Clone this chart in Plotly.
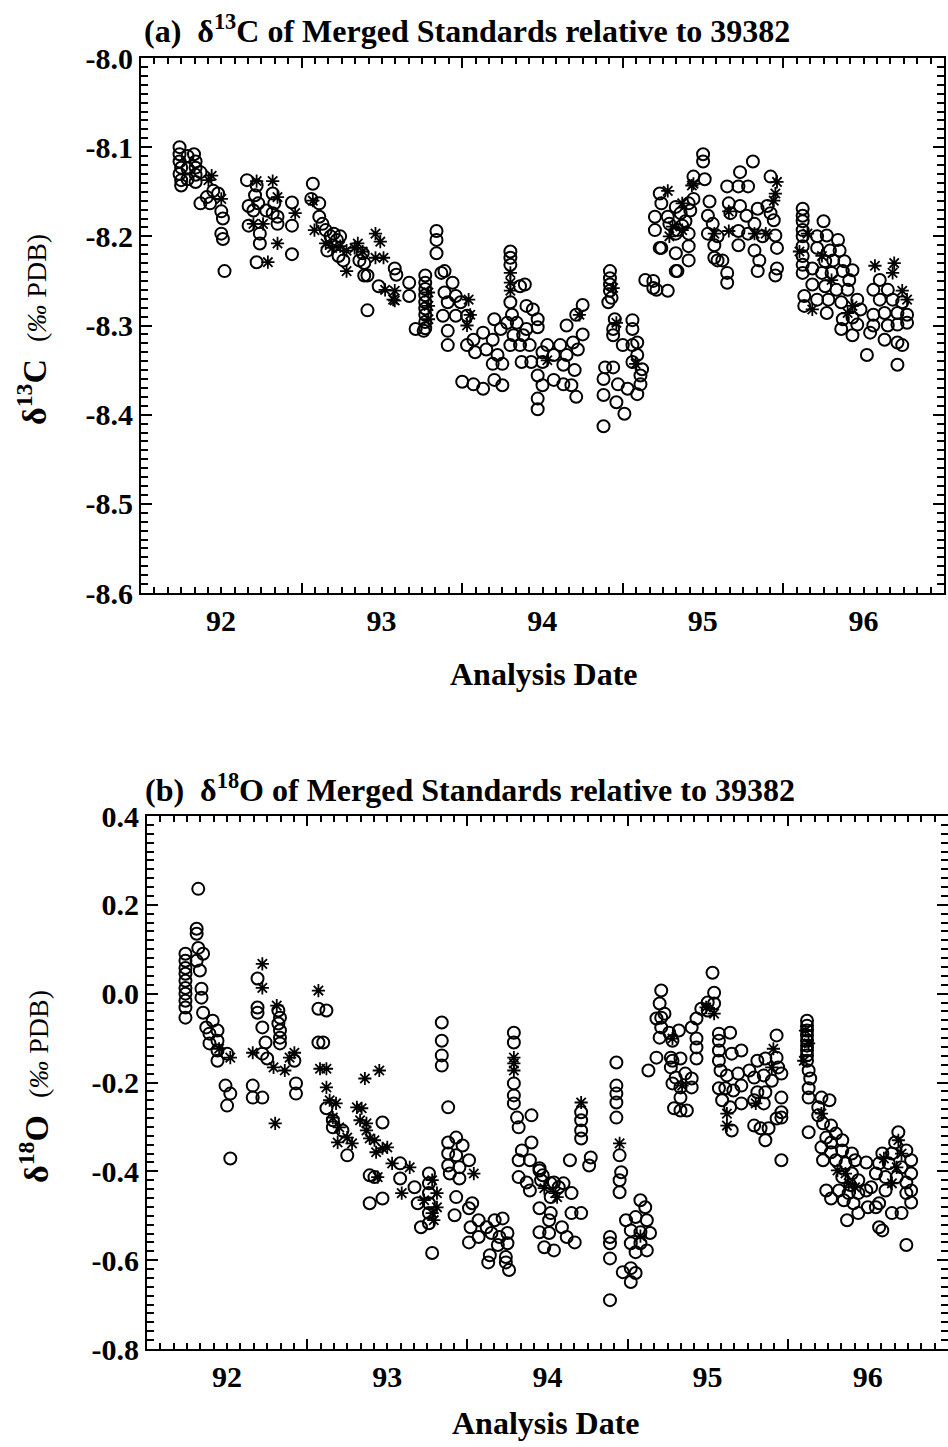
import plotly.graph_objects as go

# ---------------------------------------------------------------------------
# Data: analysis date (decimal year, 92 = 1992) and isotope value (permil PDB)
# ---------------------------------------------------------------------------

# (a) delta13C, open circles
c13_open = [
    (92.24, -8.100), (92.24, -8.108), (92.24, -8.116), (92.25, -8.123), (92.24, -8.130),
    (92.25, -8.137), (92.25, -8.143), (92.29, -8.110), (92.29, -8.124), (92.29, -8.136),
    (92.33, -8.108), (92.34, -8.116), (92.34, -8.123), (92.34, -8.131), (92.34, -8.139),
    (92.37, -8.128), (92.37, -8.163), (92.41, -8.156), (92.45, -8.149), (92.43, -8.163),
    (92.48, -8.152), (92.50, -8.172), (92.51, -8.180), (92.50, -8.197), (92.51, -8.203),
    (92.52, -8.239),
    (92.66, -8.137), (92.72, -8.143), (92.71, -8.154), (92.67, -8.166), (92.73, -8.163),
    (92.70, -8.171), (92.78, -8.171), (92.67, -8.188), (92.74, -8.197), (92.74, -8.208),
    (92.72, -8.229), (92.82, -8.152), (92.83, -8.163), (92.82, -8.174), (92.85, -8.178),
    (92.85, -8.186), (92.94, -8.162), (92.94, -8.188), (92.94, -8.220),
    (93.07, -8.141), (93.06, -8.158), (93.11, -8.163), (93.11, -8.178), (93.13, -8.186),
    (93.15, -8.193), (93.18, -8.200), (93.20, -8.197), (93.22, -8.204), (93.24, -8.200),
    (93.16, -8.216), (93.23, -8.222), (93.26, -8.227), (93.36, -8.227), (93.38, -8.219),
    (93.39, -8.230), (93.39, -8.244), (93.41, -8.244), (93.48, -8.256), (93.41, -8.283),
    (93.58, -8.236), (93.59, -8.243), (93.67, -8.252), (93.67, -8.267),
    (93.77, -8.244), (93.77, -8.252), (93.77, -8.259), (93.77, -8.266), (93.77, -8.274),
    (93.77, -8.281), (93.77, -8.288), (93.77, -8.296), (93.77, -8.303), (93.71, -8.304),
    (93.76, -8.306), (93.84, -8.194), (93.84, -8.204), (93.84, -8.219), (93.87, -8.241),
    (93.89, -8.239), (93.94, -8.252), (93.89, -8.263), (93.96, -8.267), (93.91, -8.274),
    (93.99, -8.274), (93.88, -8.289), (93.96, -8.289), (94.03, -8.289), (93.91, -8.306),
    (93.91, -8.322), (94.03, -8.322), (94.07, -8.316), (94.08, -8.330), (94.13, -8.308),
    (94.19, -8.316), (94.15, -8.327), (94.22, -8.333), (94.19, -8.343), (94.25, -8.343),
    (94.00, -8.363), (94.07, -8.366), (94.13, -8.371), (94.20, -8.361), (94.25, -8.367),
    (94.20, -8.293), (94.24, -8.304),
    (94.30, -8.217), (94.30, -8.224), (94.30, -8.232), (94.39, -8.254), (94.36, -8.256),
    (94.30, -8.274), (94.31, -8.288), (94.28, -8.297), (94.34, -8.297), (94.40, -8.278),
    (94.44, -8.282), (94.47, -8.293), (94.47, -8.302), (94.40, -8.304), (94.32, -8.311),
    (94.38, -8.311), (94.30, -8.322), (94.36, -8.322), (94.42, -8.322), (94.37, -8.341),
    (94.43, -8.341),
    (94.75, -8.277), (94.71, -8.288), (94.65, -8.300), (94.75, -8.310), (94.69, -8.319),
    (94.61, -8.322), (94.72, -8.327), (94.53, -8.322), (94.50, -8.330), (94.50, -8.341),
    (94.57, -8.333), (94.65, -8.333), (94.63, -8.344), (94.70, -8.350), (94.47, -8.356),
    (94.50, -8.367), (94.47, -8.382), (94.47, -8.394), (94.57, -8.361), (94.63, -8.366),
    (94.68, -8.367), (94.71, -8.380),
    (94.92, -8.239), (94.92, -8.247), (94.92, -8.254), (94.92, -8.261), (94.93, -8.269),
    (94.91, -8.274), (94.95, -8.293), (94.94, -8.304), (94.94, -8.311), (95.06, -8.294),
    (95.06, -8.304), (95.00, -8.322), (95.06, -8.322), (95.09, -8.319), (95.09, -8.333),
    (95.12, -8.349), (95.11, -8.356), (95.11, -8.366), (95.09, -8.377), (95.06, -8.341),
    (94.89, -8.347), (94.94, -8.347), (94.88, -8.360), (94.97, -8.366), (95.03, -8.371),
    (94.88, -8.378), (94.96, -8.386), (95.01, -8.399), (94.88, -8.413),
    (95.14, -8.249), (95.19, -8.250), (95.21, -8.260), (95.28, -8.261), (95.33, -8.239),
    (95.19, -8.258),
    (95.23, -8.152), (95.24, -8.163), (95.20, -8.178), (95.20, -8.193), (95.24, -8.213),
    (95.33, -8.219), (95.41, -8.227), (95.33, -8.167), (95.41, -8.163), (95.44, -8.158),
    (95.29, -8.186), (95.34, -8.193), (95.39, -8.183), (95.41, -8.211), (95.34, -8.239),
    (95.28, -8.178), (95.36, -8.174), (95.37, -8.188), (95.33, -8.197), (95.41, -8.197),
    (95.23, -8.213), (95.42, -8.171),
    (95.50, -8.108), (95.50, -8.116), (95.44, -8.133), (95.51, -8.136),
    (95.54, -8.161), (95.53, -8.177), (95.56, -8.186), (95.53, -8.197), (95.59, -8.200),
    (95.57, -8.210), (95.57, -8.224), (95.62, -8.227), (95.65, -8.241), (95.65, -8.252),
    (95.59, -8.227), (95.65, -8.144), (95.66, -8.163), (95.67, -8.174), (95.73, -8.128),
    (95.72, -8.144), (95.78, -8.144), (95.73, -8.166), (95.77, -8.177), (95.72, -8.194),
    (95.78, -8.197), (95.72, -8.210), (95.81, -8.116), (95.84, -8.169), (95.82, -8.186),
    (95.82, -8.216), (95.87, -8.200), (95.85, -8.227), (95.84, -8.239), (95.92, -8.133),
    (95.90, -8.166), (95.94, -8.182), (95.95, -8.199), (95.96, -8.213), (95.96, -8.236),
    (95.95, -8.244), (95.92, -8.174),
    (96.12, -8.169), (96.12, -8.177), (96.12, -8.183), (96.12, -8.193), (96.12, -8.200),
    (96.12, -8.211), (96.12, -8.222), (96.12, -8.232), (96.12, -8.241),
    (96.25, -8.183), (96.21, -8.200), (96.27, -8.199), (96.34, -8.204), (96.21, -8.213),
    (96.29, -8.216), (96.35, -8.216), (96.26, -8.228), (96.31, -8.227), (96.38, -8.228),
    (96.18, -8.236), (96.24, -8.241), (96.30, -8.241), (96.37, -8.239), (96.43, -8.238),
    (96.41, -8.249), (96.18, -8.254), (96.26, -8.256), (96.33, -8.260), (96.40, -8.260),
    (96.13, -8.267), (96.13, -8.278), (96.21, -8.271), (96.28, -8.271), (96.36, -8.274),
    (96.27, -8.286), (96.37, -8.293), (96.46, -8.271), (96.48, -8.282), (96.43, -8.291),
    (96.36, -8.304), (96.43, -8.311), (96.52, -8.333), (96.46, -8.299),
    (96.60, -8.249), (96.56, -8.260), (96.65, -8.260), (96.60, -8.271), (96.68, -8.271),
    (96.74, -8.274), (96.56, -8.288), (96.63, -8.286), (96.71, -8.286), (96.77, -8.288),
    (96.56, -8.300), (96.65, -8.300), (96.71, -8.299), (96.77, -8.297), (96.54, -8.308),
    (96.63, -8.316), (96.71, -8.319), (96.74, -8.322), (96.71, -8.344),
]

# (a) delta13C, asterisks
c13_star = [
    (92.44, -8.132), (92.42, -8.137), (92.50, -8.158),
    (92.72, -8.138), (92.82, -8.138), (92.85, -8.156), (92.96, -8.174), (92.85, -8.208),
    (92.79, -8.229), (92.76, -8.186), (92.70, -8.186),
    (93.07, -8.160), (93.08, -8.193), (93.15, -8.208), (93.19, -8.213), (93.24, -8.211),
    (93.28, -8.216), (93.28, -8.239), (93.33, -8.213), (93.35, -8.208), (93.38, -8.217),
    (93.46, -8.197), (93.49, -8.206), (93.46, -8.224), (93.51, -8.224), (93.58, -8.261),
    (93.57, -8.271), (93.52, -8.260), (93.58, -8.272),
    (93.79, -8.263), (93.79, -8.278), (93.79, -8.293),
    (94.04, -8.271), (94.05, -8.288), (94.03, -8.300),
    (94.30, -8.241), (94.30, -8.252), (94.30, -8.261),
    (94.73, -8.288), (94.53, -8.339),
    (94.94, -8.258), (94.96, -8.297), (95.08, -8.343),
    (95.28, -8.149), (95.44, -8.141), (95.37, -8.163), (95.31, -8.189), (95.37, -8.193),
    (95.29, -8.200), (95.43, -8.143),
    (95.66, -8.172), (95.66, -8.194), (95.94, -8.160), (95.95, -8.152), (95.96, -8.139),
    (95.89, -8.197), (95.57, -8.197), (95.82, -8.197),
    (96.10, -8.217), (96.15, -8.197), (96.18, -8.282), (96.24, -8.222), (96.30, -8.249),
    (96.40, -8.286), (96.43, -8.278),
    (96.57, -8.233), (96.69, -8.230), (96.68, -8.241), (96.74, -8.261), (96.77, -8.271),
]

# (b) delta18O, open circles
o18_open = [
    (92.24, 0.090), (92.24, 0.074), (92.24, 0.058), (92.24, 0.045), (92.24, 0.029),
    (92.24, 0.013), (92.24, 0.000), (92.24, -0.016), (92.24, -0.031), (92.24, -0.054),
    (92.32, 0.236), (92.31, 0.146), (92.31, 0.135), (92.32, 0.103), (92.35, 0.090),
    (92.31, 0.074), (92.33, 0.052), (92.34, 0.011), (92.34, -0.009), (92.35, -0.043),
    (92.37, -0.076), (92.41, -0.061), (92.44, -0.083), (92.39, -0.090), (92.44, -0.106),
    (92.39, -0.112), (92.44, -0.128), (92.50, -0.135), (92.44, -0.151), (92.49, -0.207),
    (92.52, -0.225), (92.50, -0.252), (92.52, -0.371),
    (92.69, 0.034), (92.69, -0.031), (92.69, -0.043), (92.72, -0.076), (92.74, -0.110),
    (92.72, -0.135), (92.75, -0.146), (92.66, -0.207), (92.66, -0.234), (92.72, -0.234),
    (92.82, -0.038), (92.83, -0.054), (92.82, -0.067), (92.83, -0.083), (92.83, -0.099),
    (92.83, -0.112), (92.93, -0.202), (92.93, -0.225), (92.92, -0.151),
    (93.07, -0.034), (93.12, -0.038), (93.07, -0.110), (93.10, -0.110),
    (93.12, -0.258), (93.16, -0.285), (93.16, -0.301), (93.22, -0.308), (93.25, -0.364),
    (93.47, -0.290), (93.39, -0.409), (93.42, -0.413), (93.39, -0.472), (93.47, -0.461),
    (93.58, -0.382), (93.58, -0.416),
    (93.67, -0.436), (93.69, -0.472), (93.76, -0.405), (93.76, -0.427), (93.76, -0.449),
    (93.76, -0.472), (93.76, -0.494), (93.76, -0.517), (93.71, -0.526), (93.78, -0.584),
    (93.84, -0.065), (93.84, -0.106), (93.84, -0.139), (93.84, -0.162), (93.88, -0.256),
    (93.88, -0.335), (93.93, -0.324), (93.97, -0.342), (93.88, -0.360), (93.93, -0.364),
    (94.01, -0.375), (93.88, -0.387), (93.95, -0.391), (93.89, -0.405), (93.95, -0.416),
    (93.93, -0.458), (94.03, -0.472), (94.01, -0.483), (93.92, -0.499),
    (94.02, -0.526), (94.07, -0.510), (94.12, -0.526), (94.17, -0.510), (94.22, -0.506),
    (94.01, -0.560), (94.07, -0.548), (94.15, -0.539), (94.20, -0.548), (94.25, -0.539),
    (94.19, -0.566), (94.25, -0.562), (94.14, -0.589), (94.24, -0.593), (94.13, -0.605),
    (94.24, -0.605), (94.26, -0.622),
    (94.29, -0.088), (94.29, -0.110), (94.29, -0.202), (94.29, -0.229), (94.29, -0.247),
    (94.31, -0.279), (94.32, -0.301), (94.40, -0.274),
    (94.40, -0.335), (94.34, -0.353), (94.32, -0.375), (94.39, -0.375), (94.45, -0.398),
    (94.32, -0.413), (94.37, -0.425), (94.46, -0.420), (94.39, -0.443), (94.52, -0.427),
    (94.57, -0.436), (94.60, -0.427), (94.65, -0.449), (94.45, -0.483), (94.52, -0.494),
    (94.51, -0.510), (94.45, -0.537), (94.51, -0.539), (94.48, -0.571), (94.54, -0.578),
    (94.59, -0.526), (94.62, -0.548), (94.67, -0.560), (94.65, -0.494), (94.71, -0.494),
    (94.52, -0.458), (94.45, -0.393), (94.47, -0.409), (94.54, -0.425),
    (94.64, -0.375), (94.77, -0.369), (94.76, -0.387),
    (94.71, -0.267), (94.71, -0.285), (94.71, -0.308), (94.71, -0.326),
    (94.93, -0.155), (94.93, -0.207), (94.93, -0.225), (94.93, -0.245), (94.93, -0.279),
    (94.95, -0.364), (94.96, -0.402), (94.95, -0.420), (94.95, -0.447), (94.89, -0.548),
    (94.89, -0.562), (94.89, -0.596), (94.97, -0.627), (95.02, -0.618), (95.05, -0.629),
    (95.02, -0.649), (94.89, -0.690),
    (95.08, -0.465), (95.11, -0.481), (94.99, -0.510), (95.05, -0.503), (95.12, -0.510),
    (95.02, -0.533), (95.08, -0.537), (95.14, -0.539), (95.02, -0.562), (95.08, -0.562),
    (95.12, -0.578), (95.05, -0.582),
    (95.21, 0.007), (95.20, -0.022), (95.23, -0.045), (95.18, -0.056), (95.21, -0.076),
    (95.20, -0.099), (95.26, -0.088), (95.32, -0.083), (95.28, -0.106), (95.18, -0.144),
    (95.13, -0.173), (95.27, -0.144), (95.33, -0.146), (95.27, -0.166), (95.30, -0.189),
    (95.36, -0.180), (95.40, -0.191), (95.28, -0.202), (95.33, -0.211), (95.40, -0.211),
    (95.33, -0.234), (95.29, -0.258), (95.33, -0.263), (95.37, -0.263), (95.21, -0.054),
    (95.28, -0.151),
    (95.53, 0.047), (95.54, 0.002), (95.50, -0.020), (95.46, -0.034), (95.43, -0.056),
    (95.40, -0.076), (95.43, -0.101), (95.43, -0.121), (95.43, -0.146), (95.54, -0.022),
    (95.50, -0.038),
    (95.57, -0.090), (95.64, -0.088), (95.57, -0.106), (95.57, -0.128), (95.57, -0.151),
    (95.65, -0.135), (95.71, -0.128), (95.58, -0.173), (95.62, -0.184), (95.69, -0.180),
    (95.76, -0.173), (95.81, -0.151), (95.86, -0.146), (95.93, -0.094), (95.93, -0.144),
    (95.94, -0.166), (95.96, -0.180), (95.79, -0.189), (95.85, -0.184), (95.90, -0.196),
    (95.57, -0.213), (95.61, -0.213), (95.66, -0.218), (95.71, -0.207), (95.81, -0.222),
    (95.86, -0.222), (95.59, -0.240), (95.64, -0.256), (95.71, -0.247), (95.79, -0.240),
    (95.85, -0.247), (95.96, -0.234), (95.96, -0.267), (95.96, -0.279), (95.93, -0.281),
    (95.79, -0.297), (95.83, -0.303), (95.88, -0.303), (95.86, -0.330), (95.65, -0.308),
    (95.96, -0.375),
    (96.12, -0.061), (96.12, -0.072), (96.12, -0.083), (96.12, -0.094), (96.12, -0.106),
    (96.12, -0.117), (96.12, -0.128), (96.12, -0.139), (96.12, -0.151),
    (96.13, -0.173), (96.14, -0.191), (96.13, -0.213), (96.13, -0.234), (96.13, -0.312),
    (96.21, -0.234), (96.26, -0.240), (96.19, -0.256), (96.19, -0.274), (96.22, -0.292),
    (96.27, -0.297), (96.24, -0.324), (96.30, -0.315), (96.21, -0.346), (96.27, -0.335),
    (96.34, -0.330), (96.27, -0.357), (96.34, -0.353), (96.40, -0.360), (96.22, -0.375),
    (96.30, -0.375), (96.36, -0.382), (96.42, -0.375), (96.49, -0.380), (96.24, -0.443),
    (96.27, -0.461), (96.34, -0.413), (96.40, -0.405), (96.44, -0.420), (96.32, -0.443),
    (96.38, -0.449), (96.44, -0.449), (96.49, -0.443), (96.41, -0.472), (96.37, -0.510),
    (96.44, -0.494), (96.50, -0.481), (96.55, -0.481), (96.39, -0.431), (96.35, -0.465),
    (96.69, -0.312), (96.67, -0.335), (96.59, -0.360), (96.65, -0.360), (96.74, -0.353),
    (96.77, -0.375), (96.57, -0.382), (96.63, -0.382), (96.71, -0.391), (96.77, -0.405),
    (96.55, -0.405), (96.61, -0.413), (96.68, -0.413), (96.74, -0.425), (96.52, -0.436),
    (96.61, -0.443), (96.77, -0.443), (96.74, -0.449), (96.77, -0.470), (96.65, -0.494),
    (96.71, -0.494), (96.57, -0.526), (96.59, -0.533), (96.74, -0.566), (96.57, -0.472),
]

# (b) delta18O, asterisks
o18_star = [
    (92.52, -0.144), (92.45, -0.124), (92.80, -0.292),
    (92.72, 0.067), (92.72, 0.013), (92.66, -0.133), (92.79, -0.166), (92.86, -0.173),
    (92.81, -0.027), (92.92, -0.133), (92.89, -0.144),
    (93.07, 0.007), (93.08, -0.169), (93.12, -0.169),
    (93.12, -0.211), (93.14, -0.240), (93.18, -0.247), (93.16, -0.279), (93.20, -0.301),
    (93.19, -0.335), (93.25, -0.324), (93.28, -0.337), (93.31, -0.256), (93.33, -0.285),
    (93.37, -0.292), (93.37, -0.308), (93.39, -0.326), (93.42, -0.330), (93.43, -0.357),
    (93.47, -0.348), (93.50, -0.346), (93.44, -0.413), (93.36, -0.191), (93.45, -0.173),
    (93.34, -0.258), (93.53, -0.382), (93.64, -0.391), (93.59, -0.449),
    (93.81, -0.449), (93.81, -0.481), (93.79, -0.510), (93.73, -0.465), (93.78, -0.420),
    (93.78, -0.494),
    (94.04, -0.405),
    (94.29, -0.144), (94.29, -0.157), (94.29, -0.173),
    (94.55, -0.449), (94.56, -0.458), (94.48, -0.438),
    (94.71, -0.245), (94.95, -0.337), (95.08, -0.546),
    (95.28, -0.101), (95.34, -0.207), (95.54, -0.045), (95.49, -0.031),
    (95.62, -0.270), (95.62, -0.297), (95.80, -0.247), (95.91, -0.124), (95.90, -0.166),
    (96.10, -0.151), (96.13, -0.112), (96.11, -0.083),
    (96.21, -0.270), (96.36, -0.405), (96.42, -0.436), (96.38, -0.427), (96.31, -0.398),
    (96.69, -0.330), (96.71, -0.360), (96.60, -0.371), (96.68, -0.391), (96.65, -0.427),
]

# Axis ticks
year_ticks = [92, 93, 94, 95, 96, 97]
year_labels = ["92", "93", "94", "95", "96", ""]
c13_ticks = [-8.6, -8.5, -8.4, -8.3, -8.2, -8.1, -8.0]
o18_ticks = [-0.8, -0.6, -0.4, -0.2, 0.0, 0.2, 0.4]

# ---------------------------------------------------------------------------
W, H = 948, 1447
SERIF = "Liberation Serif"


def px_x(p):
    return p / W


def px_y(p):
    return 1 - p / H


def unzip(pairs):
    return [p[0] for p in pairs], [p[1] for p in pairs]


circle_marker = dict(symbol="circle-open", size=12, color="black",
                     line=dict(width=2, color="black"))
star_marker = dict(symbol="asterisk-open", size=11, color="black",
                   line=dict(width=1.8, color="black"))

fig = go.Figure()
for pairs, marker, xa, ya in [
    (c13_open, circle_marker, "x", "y"),
    (c13_star, star_marker, "x", "y"),
    (o18_open, circle_marker, "x2", "y2"),
    (o18_star, star_marker, "x2", "y2"),
]:
    xs, ys = unzip(pairs)
    fig.add_trace(go.Scatter(x=xs, y=ys, mode="markers", marker=marker,
                             xaxis=xa, yaxis=ya, showlegend=False))

tick_font = dict(family=SERIF, size=30, color="black", weight="bold")


def x_axis(domain, anchor):
    return dict(
        domain=domain, anchor=anchor, range=[92, 97], automargin=False,
        tickmode="array", tickvals=year_ticks, ticktext=year_labels,
        ticks="inside", ticklen=10, tickwidth=2, tickcolor="black",
        ticklabelshift=80,
        minor=dict(tickmode="linear", tick0=92, dtick=1 / 12, ticks="inside",
                   ticklen=6, tickwidth=1.6, tickcolor="black", showgrid=False),
        showline=True, linewidth=2, linecolor="black", mirror="ticks",
        showgrid=False, zeroline=False, tickfont=tick_font, layer="above traces",
    )


def y_axis(domain, anchor, ticks, rng, minor_step):
    return dict(
        domain=domain, anchor=anchor, range=rng, automargin=False,
        tickmode="array", tickvals=ticks, ticktext=[f"{v:.1f}" for v in ticks],
        ticks="inside", ticklen=11, tickwidth=2, tickcolor="black",
        minor=dict(tickmode="linear", tick0=rng[0], dtick=minor_step,
                   ticks="inside", ticklen=7, tickwidth=1.6, tickcolor="black",
                   showgrid=False),
        showline=True, linewidth=2, linecolor="black", mirror="ticks",
        showgrid=False, zeroline=False, tickfont=tick_font, layer="above traces",
    )


fig.update_layout(
    width=W, height=H,
    margin=dict(l=0, r=0, t=0, b=0, autoexpand=False),
    paper_bgcolor="white", plot_bgcolor="white",
    xaxis=x_axis([px_x(141), px_x(944)], "y"),
    yaxis=y_axis([px_y(593), px_y(58)], "x", c13_ticks, [-8.6, -8.0], 0.01),
    xaxis2=x_axis([px_x(147), 1.0], "y2"),
    yaxis2=y_axis([px_y(1349), px_y(816)], "x2", o18_ticks, [-0.8, 0.4], 0.02),
)

nb = "\u00a0"
big = dict(family=SERIF, size=32, color="black")
annotations = [
    dict(text=f"<b>(a){nb} δ<sup>13</sup>C of Merged Standards relative to 39382</b>",
         x=px_x(142), y=px_y(29), xanchor="left", yanchor="middle", font=big),
    dict(text=f"<b>(b){nb} δ<sup>18</sup>O of Merged Standards relative to 39382</b>",
         x=px_x(143), y=px_y(788), xanchor="left", yanchor="middle", font=big),
    dict(text="<b>Analysis Date</b>", x=px_x(544), y=px_y(674),
         xanchor="center", yanchor="middle", font=big),
    dict(text="<b>Analysis Date</b>", x=px_x(546), y=px_y(1423),
         xanchor="center", yanchor="middle", font=big),
    dict(text="<b>δ<sup>13</sup>C</b>  <span style='font-size:28px'>(<i>‰</i> PDB)</span>",
         x=px_x(32), y=px_y(330), xanchor="center", yanchor="middle", textangle=-90,
         font=dict(family=SERIF, size=34, color="black")),
    dict(text="<b>δ<sup>18</sup>O</b>  <span style='font-size:28px'>(<i>‰</i> PDB)</span>",
         x=px_x(34), y=px_y(1087), xanchor="center", yanchor="middle", textangle=-90,
         font=dict(family=SERIF, size=34, color="black")),
]
for a in annotations:
    a.update(xref="paper", yref="paper", showarrow=False)
fig.update_layout(annotations=annotations)

fig.write_html("out.html")
